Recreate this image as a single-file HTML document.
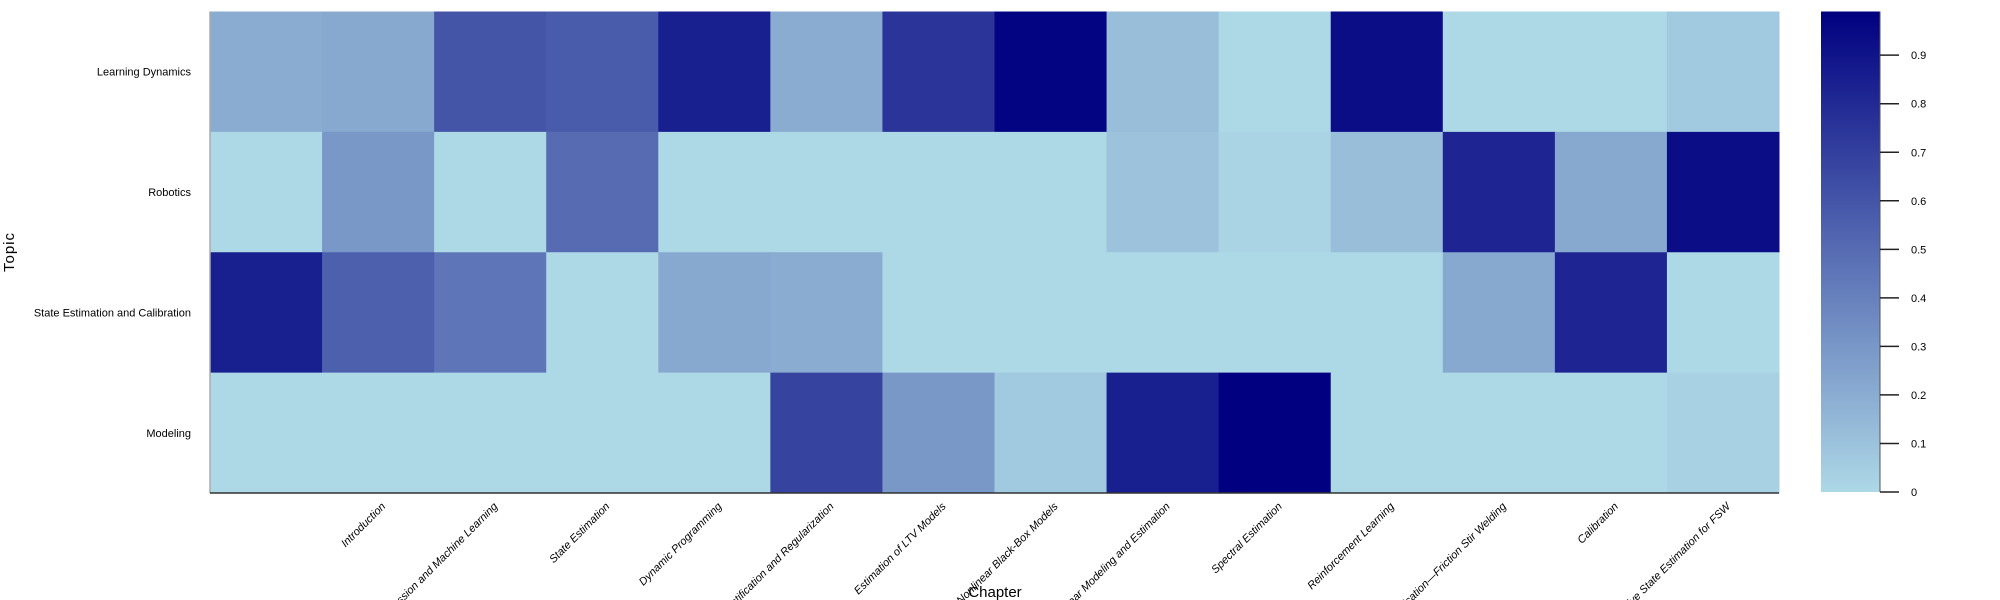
<!DOCTYPE html>
<html><head><meta charset="utf-8"><style>
html,body{margin:0;background:#fff;width:2000px;height:600px;overflow:hidden;}
#wrap{width:2000px;height:600px;overflow:hidden;position:relative;}
svg{display:block;font-family:"Liberation Sans",sans-serif;overflow:hidden;}
</style></head><body>
<div id="wrap">
<svg id="c" width="2000" height="600">
<defs><linearGradient id="g" x1="0" y1="1" x2="0" y2="0">
<stop offset="0" stop-color="#add8e6"/><stop offset="1" stop-color="#000080"/></linearGradient></defs>
</svg>
</div>
<script>
const chapters=["","Introduction","Regression and Machine Learning","State Estimation","Dynamic Programming","Identification and Regularization","Estimation of LTV Models","Nonlinear Black-Box Models","Nonlinear Modeling and Estimation","Spectral Estimation","Reinforcement Learning","Application\u2014Friction Stir Welding","Calibration","Recursive State Estimation for FSW"];
const topics=["Learning Dynamics","Robotics","State Estimation and Calibration","Modeling"];
const rowLearning=[0.2,0.22,0.6,0.57,0.85,0.2,0.75,0.97,0.12,0,0.93,0,0,0.07];
const rowRobotics=[0,0.3,0,0.5,0,0,0,0,0.1,0.02,0.12,0.82,0.22,0.93];
const rowStateEst=[0.85,0.55,0.45,0,0.22,0.2,0,0,0,0,0,0.22,0.82,0];
const rowModeling=[0,0,0,0,0,0.68,0.3,0.07,0.85,0.99,0,0,0,0.03];
const cbTicks=[0,0.1,0.2,0.3,0.4,0.5,0.6,0.7,0.8,0.9];
const rows=[rowLearning,rowRobotics,rowStateEst,rowModeling];
const NS="http://www.w3.org/2000/svg",svg=document.getElementById('c');
const L=210,R=1779,T=11.5,B=493,vmax=0.99;
const cw=(R-L)/chapters.length,rh=(B-T)/topics.length;
const xs=i=>L+i*cw, ys=j=>T+j*rh;
function col(v){const t=Math.max(0,Math.min(1,v/vmax));
 const a=[173,216,230],b=[0,0,128];return `rgb(${a.map((x,k)=>Math.round(x+(b[k]-x)*t)).join(',')})`;}
function el(tag,at,txt){const e=document.createElementNS(NS,tag);for(const k in at)e.setAttribute(k,at[k]);if(txt!=null)e.textContent=txt;svg.appendChild(e);return e;}
rows.forEach((r,j)=>r.forEach((v,i)=>{
 const e=el('rect',{x:xs(i),y:ys(j),width:cw+0.5,height:rh+0.5,fill:col(v)});
 
 
}));
topics.forEach((t,j)=>{
 const e=el('text',{x:191,y:ys(j)+rh/2+4,'text-anchor':'end','font-size':11},t);
 
 
});
chapters.forEach((c,i)=>{
 const x=xs(i)+cw/2+8,y=507;
 const e=el('text',{x:x,y:y,'text-anchor':'end','font-size':11,'font-style':'italic',transform:`rotate(-45 ${x} ${y})`},c);
 
 
});
let a=el('line',{x1:L,y1:T,x2:L,y2:B,stroke:'#aaa','stroke-width':1.5});

a=el('line',{x1:L,y1:B,x2:R,y2:B,stroke:'#333','stroke-width':1.5});

let t=el('text',{x:14,y:252,'text-anchor':'middle','font-size':15,'letter-spacing':1,transform:'rotate(-90 14 252)'},'Topic');

t=el('text',{x:995,y:597,'text-anchor':'middle','font-size':15},'Chapter');

const cbL=1821,cbR=1880,cbB=492,cbT=11.5;
const cy=v=>cbB-(cbB-cbT)*v/vmax;
let cb=el('rect',{x:cbL,y:cbT,width:cbR-cbL,height:cbB-cbT,fill:'url(#g)'});

el('line',{x1:cbR,y1:cbT,x2:cbR,y2:cbB,stroke:'#555','stroke-width':1});
cbTicks.forEach(v=>{
 const y=cy(v);
 el('line',{x1:cbR,y1:y,x2:cbR+19,y2:y,stroke:'#222','stroke-width':1.5});
 const e=el('text',{x:1911,y:y+4,'font-size':11},String(v));
 
 
});
</script>
</body></html>
